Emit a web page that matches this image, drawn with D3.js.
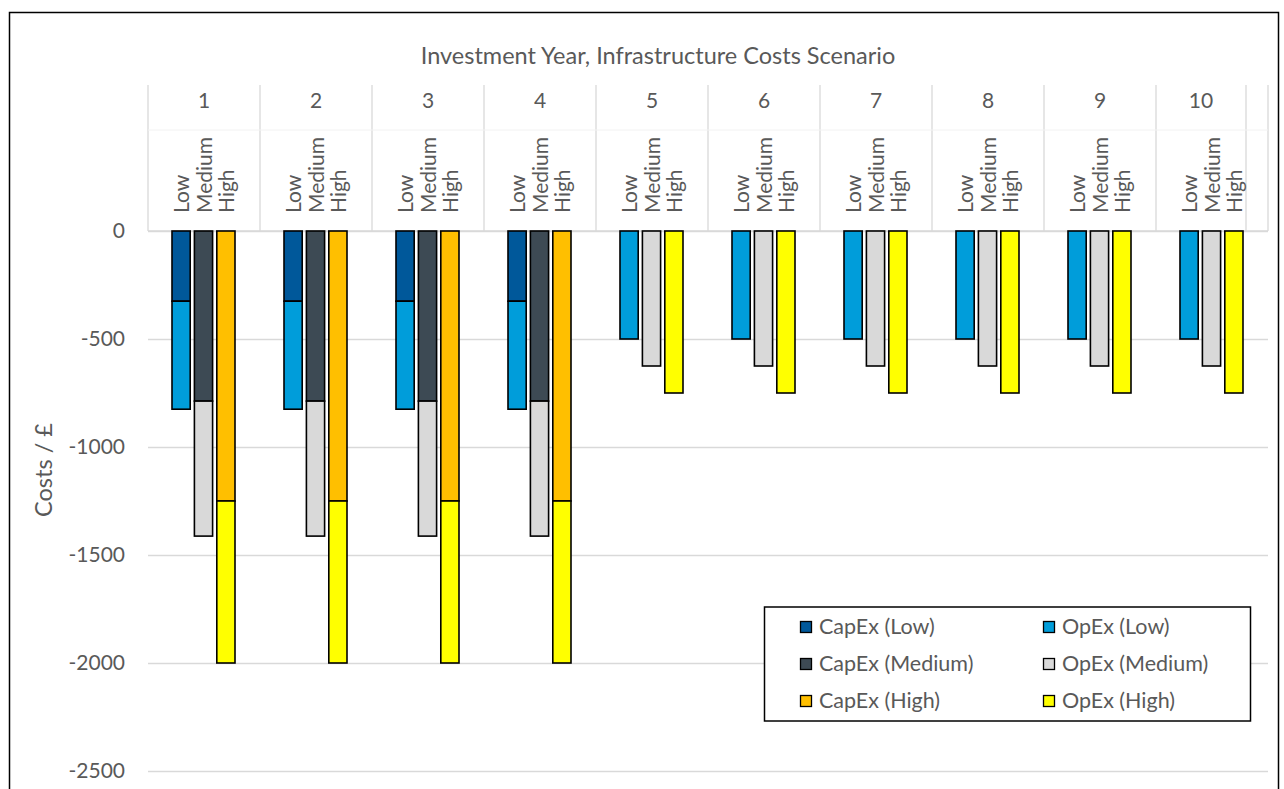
<!DOCTYPE html>
<html>
<head>
<meta charset="utf-8">
<script src="https://cdn.jsdelivr.net/npm/d3@7"></script>
<style>
  body { margin: 0; background: #fff; }
  text { font-family: Lato, "Open Sans", sans-serif; fill: #595959; }
</style>
</head>
<body>
<div id="chart"></div>
<script>
// Data
var years = ["1", "2", "3", "4", "5", "6", "7", "8", "9", "10"]
var scenarios = ["Low", "Medium", "High"]
var yTicks = [0, -500, -1000, -1500, -2000, -2500]

var capexLow    = [-325, -325, -325, -325, 0, 0, 0, 0, 0, 0]
var opexLow     = [-500, -500, -500, -500, -500, -500, -500, -500, -500, -500]
var capexMedium = [-787.5, -787.5, -787.5, -787.5, 0, 0, 0, 0, 0, 0]
var opexMedium  = [-625, -625, -625, -625, -625, -625, -625, -625, -625, -625]
var capexHigh   = [-1250, -1250, -1250, -1250, 0, 0, 0, 0, 0, 0]
var opexHigh    = [-750, -750, -750, -750, -750, -750, -750, -750, -750, -750]

var series = {
    Low:    { capex: capexLow,    opex: opexLow },
    Medium: { capex: capexMedium, opex: opexMedium },
    High:   { capex: capexHigh,   opex: opexHigh }
}

// colours per scenario: [CapEx, OpEx]
var colors = {
    Low:    ["#00589a", "#009dda"],
    Medium: ["#3d4a54", "#d9d9d9"],
    High:   ["#ffbf00", "#ffff00"]
}

var width = 1284
var height = 789
var labelSize = "21px"
var titleSize = "23.5px"

var svg = d3.select("#chart")
  .append("svg")
  .attr("width", width)
  .attr("height", height)

// outer chart border
svg.append("rect")
    .attr("x", 9.5).attr("y", 12.5)
    .attr("width", 1269).attr("height", 820)
    .attr("fill", "none")
    .attr("stroke", "#000")
    .attr("stroke-width", 1.5)

var plotLeft = 148, plotRight = 1268

// scales
var x0 = d3.scaleBand()
    .domain(years)
    .range([plotLeft, plotRight])

var x1 = d3.scaleBand()
    .domain(scenarios)
    .range([24, 87])
    .paddingInner(0.1875)

var y = d3.scaleLinear()
    .domain([0, -2500])
    .range([231, 771])

// gridlines
svg.append("g")
    .attr("transform", "translate(" + plotLeft + ",0)")
    .call(d3.axisLeft(y).tickValues(yTicks).tickSize(-(plotRight - plotLeft)).tickFormat(""))
    .call(g => g.select(".domain").remove())
    .selectAll("line")
      .attr("stroke", "#d9d9d9")
      .attr("stroke-width", 1.3)

// y tick labels
svg.append("g")
    .attr("transform", "translate(125,0)")
    .call(d3.axisLeft(y).tickValues(yTicks).tickSize(0).tickPadding(0).tickFormat(d => String(d)))
    .call(g => g.select(".domain").remove())
    .selectAll("text")
      .style("font-size", labelSize)
      .style("font-family", "Lato, sans-serif")
      .attr("fill", "#595959")

// y axis title
svg.append("text")
    .attr("transform", "translate(52,470) rotate(-90)")
    .attr("text-anchor", "middle")
    .style("font-size", titleSize)
    .text("Costs / £")

// header (category axis drawn at top)
var header = svg.append("g")

var sepX = years.map(d => x0(d)).concat([1246, plotRight])
header.selectAll("line.sep")
    .data(sepX)
    .join("line")
      .attr("class", "sep")
      .attr("x1", d => d).attr("x2", d => d)
      .attr("y1", 85).attr("y2", 231)
      .attr("stroke", "#d9d9d9")
      .attr("stroke-width", 1.3)

header.append("line")
    .attr("x1", plotLeft).attr("x2", plotRight)
    .attr("y1", 130).attr("y2", 130)
    .attr("stroke", "#f2f2f2")

header.append("line")
    .attr("x1", plotLeft).attr("x2", plotRight)
    .attr("y1", 231).attr("y2", 231)
    .attr("stroke", "#d9d9d9")
    .attr("stroke-width", 1.3)

// year labels (the last cell is narrower, ends at 1246)
header.selectAll("text.year")
    .data(years)
    .join("text")
      .attr("class", "year")
      .attr("x", (d, i) => i == years.length - 1 ? (x0(d) + 1246) / 2 : x0(d) + x0.bandwidth() / 2)
      .attr("y", 108)
      .attr("text-anchor", "middle")
      .style("font-size", labelSize)
      .text(d => d)

// scenario labels, rotated
years.forEach(function(yr) {
    header.selectAll(null)
        .data(scenarios)
        .join("text")
          .attr("transform", d => "translate(" + (x0(yr) + x1(d) + x1.bandwidth() / 2 + 8) + ",213) rotate(-90)")
          .attr("text-anchor", "start")
          .style("font-size", labelSize)
          .text(d => d)
})

// axis title
svg.append("text")
    .attr("x", 658)
    .attr("y", 64)
    .attr("text-anchor", "middle")
    .style("font-size", titleSize)
    .text("Investment Year, Infrastructure Costs Scenario")

// bars: stack CapEx then OpEx per scenario
var stack = d3.stack()
    .keys(["capex", "opex"])
    .offset(d3.stackOffsetDiverging)

scenarios.forEach(function(sc) {
    var rows = years.map((yr, i) => ({ year: yr, capex: series[sc].capex[i], opex: series[sc].opex[i] }))
    var layers = stack(rows)

    layers.forEach(function(layer, li) {
        svg.append("g")
            .selectAll("rect")
            .data(layer.filter(d => d[1] - d[0] != 0))
            .join("rect")
              .attr("x", d => x0(d.data.year) + x1(sc))
              .attr("width", x1.bandwidth())
              .attr("y", d => y(d[1]))
              .attr("height", d => y(d[0]) - y(d[1]))
              .attr("fill", colors[sc][li])
              .attr("stroke", "#000")
              .attr("stroke-width", 1.6)
    })
})

// legend
var legendItems = [
    { label: "CapEx (Low)", color: colors.Low[0] },
    { label: "OpEx (Low)", color: colors.Low[1] },
    { label: "CapEx (Medium)", color: colors.Medium[0] },
    { label: "OpEx (Medium)", color: colors.Medium[1] },
    { label: "CapEx (High)", color: colors.High[0] },
    { label: "OpEx (High)", color: colors.High[1] }
]

var legend = svg.append("g")

legend.append("rect")
    .attr("x", 764.5).attr("y", 607)
    .attr("width", 486).attr("height", 114)
    .attr("fill", "#fff")
    .attr("stroke", "#000")
    .attr("stroke-width", 1.5)

var item = legend.selectAll("g.item")
    .data(legendItems)
    .join("g")
      .attr("class", "item")
      .attr("transform", (d, i) => "translate(" + (i % 2 == 0 ? 800 : 1043) + "," + (627 + Math.floor(i / 2) * 37) + ")")

item.append("rect")
    .attr("x", 0.5).attr("y", -5.5)
    .attr("width", 11).attr("height", 11)
    .attr("fill", d => d.color)
    .attr("stroke", "#000")
    .attr("stroke-width", 1.3)

item.append("text")
    .attr("x", 19)
    .attr("y", 7)
    .style("font-size", "21.5px")
    .text(d => d.label)
</script>
</body>
</html>
